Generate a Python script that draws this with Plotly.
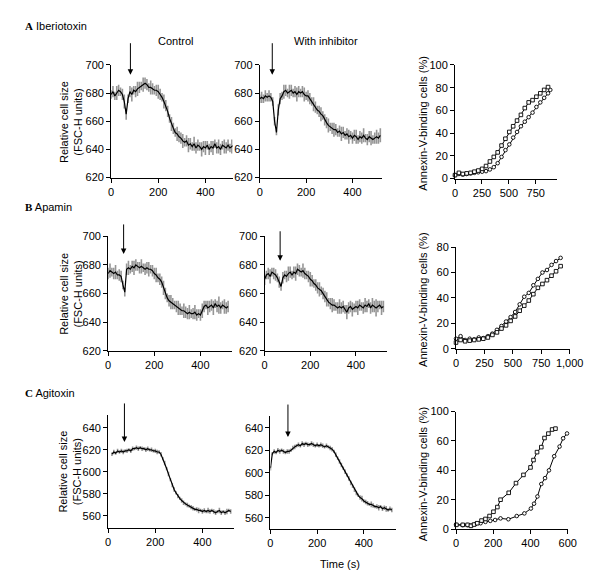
import plotly.graph_objects as go

FONT = "Liberation Sans, Arial, sans-serif"
W, H = 600, 579

# ---------------- data ----------------
t = list(range(0, 521, 8))
t_c_ctrl = list(range(16, 521, 8))

a_ctrl = [679, 681, 678, 680, 682, 681, 679, 674, 665, 676, 681,
          679, 682, 681, 683, 684, 685, 686, 687, 686, 684, 684,
          683, 682, 682, 681, 679, 677, 674, 671, 667, 662, 658,
          655, 652, 651, 649, 648, 646, 645, 646, 643, 644, 642,
          644, 641, 643, 642, 640, 642, 641, 643, 640, 642, 641,
          644, 641, 642, 640, 643, 642, 641, 643, 641, 642, 643]
a_ctrl_sd = [3, 4, 3, 5, 4, 3, 4, 5, 4, 3, 4,
             5, 3, 4, 5, 4, 3, 5, 4, 4, 3, 5,
             4, 3, 4, 5, 4, 3, 5, 4, 4, 3, 5,
             4, 3, 5, 4, 4, 5, 3, 4, 5, 4, 3,
             5, 4, 4, 3, 5, 4, 5, 3, 4, 4, 5,
             3, 4, 5, 4, 3, 5, 4, 4, 3, 5, 4]

a_inh = [676, 677, 676, 678, 677, 678, 677, 674, 660, 652, 668,
         676, 678, 681, 682, 680, 681, 682, 680, 681, 679, 681,
         680, 681, 679, 678, 678, 676, 674, 672, 670, 668, 667,
         665, 664, 661, 659, 657, 656, 655, 654, 654, 652, 653,
         651, 652, 650, 651, 649, 650, 648, 650, 649, 647, 649,
         648, 650, 648, 647, 649, 648, 647, 648, 649, 648, 650]
a_inh_sd = [3, 4, 3, 4, 3, 4, 3, 3, 3, 2, 4,
            4, 3, 5, 4, 3, 5, 4, 3, 4, 5, 4,
            3, 4, 5, 3, 4, 4, 3, 5, 4, 3, 4,
            5, 3, 4, 4, 5, 3, 4, 5, 4, 3, 4,
            5, 4, 3, 4, 5, 3, 4, 4, 5, 3, 4,
            4, 5, 3, 4, 4, 5, 3, 4, 5, 4, 5]

b_ctrl = [674, 676, 675, 674, 675, 673, 673, 672, 666, 661, 677,
          678, 677, 679, 678, 680, 679, 678, 679, 678, 677, 678,
          677, 677, 676, 674, 673, 671, 670, 668, 664, 660, 657,
          655, 654, 653, 652, 651, 650, 649, 648, 648, 647, 646,
          647, 646, 646, 647, 645, 646, 645, 648, 651, 652, 650,
          651, 652, 650, 653, 651, 652, 650, 652, 651, 650, 651]
b_ctrl_sd = [4, 5, 3, 4, 5, 3, 4, 4, 3, 3, 4,
             5, 3, 4, 5, 4, 3, 4, 5, 3, 4, 4,
             5, 3, 4, 4, 5, 3, 4, 4, 5, 4, 3,
             4, 5, 4, 3, 4, 5, 4, 3, 5, 4, 4,
             5, 3, 4, 5, 4, 3, 4, 5, 4, 3, 5,
             4, 4, 5, 3, 4, 6, 4, 3, 5, 4, 4]

b_inh = [670, 673, 674, 672, 675, 674, 673, 671, 668, 665, 671,
         673, 672, 674, 675, 673, 675, 674, 677, 676, 675, 676,
         674, 673, 672, 670, 669, 667, 666, 664, 663, 662, 660,
         658, 656, 654, 653, 652, 652, 651, 650, 651, 650, 651,
         649, 647, 650, 651, 649, 650, 651, 650, 652, 651, 650,
         652, 651, 653, 650, 652, 651, 650, 651, 652, 650, 651]
b_inh_sd = [4, 3, 4, 5, 3, 4, 4, 3, 4, 3, 4,
            3, 4, 5, 4, 3, 4, 5, 4, 4, 3, 5,
            4, 3, 4, 5, 4, 3, 4, 4, 5, 3, 4,
            4, 5, 3, 4, 5, 4, 3, 4, 5, 4, 4,
            3, 5, 4, 4, 5, 3, 4, 5, 4, 3, 4,
            5, 4, 3, 4, 5, 4, 6, 4, 3, 5, 4]

c_ctrl = [616, 618, 617, 619, 618, 619, 618, 619, 619, 620, 619,
          621, 621, 622, 621, 622, 621, 621, 620, 621, 620, 620,
          619, 619, 618, 618, 616, 612, 608, 603, 598, 593, 588,
          584, 581, 578, 576, 574, 572, 571, 570, 569, 568, 567,
          566, 566, 565, 565, 564, 565, 564, 565, 564, 565, 564,
          563, 564, 565, 563, 564, 563, 564, 565, 564]
c_ctrl_sd = [1.5, 2, 1.5, 2, 1.5, 2, 2, 1.5, 2, 1.5, 2,
             2, 1.5, 2, 2, 1.5, 2, 1.5, 2, 2, 1.5, 2,
             1.5, 2, 2, 1.5, 2, 1.5, 2, 1.5, 2, 1.5, 2,
             2, 1.5, 2, 1.5, 2, 2, 1.5, 2, 1.5, 2, 2,
             1.5, 2, 2.5, 1.5, 2, 2, 1.5, 2.5, 2, 1.5, 2,
             2, 1.5, 2.5, 2, 1.5, 2, 2.5, 1.5, 2]

c_inh = [604, 617, 619, 618, 620, 619, 620, 619, 618, 619, 619,
         620, 622, 623, 624, 625, 624, 626, 625, 626, 625, 625,
         626, 625, 624, 625, 624, 625, 624, 623, 624, 623, 622,
         621, 619, 616, 613, 610, 607, 604, 601, 598, 595, 591,
         588, 585, 582, 580, 578, 577, 575, 574, 573, 572, 572,
         571, 570, 570, 569, 570, 568, 569, 568, 567, 568, 567]
c_inh_sd = [2, 1.5, 2, 1.5, 2, 2, 1.5, 2, 1.5, 2, 2,
            1.5, 2, 2, 1.5, 2, 1.5, 2, 2, 1.5, 2, 1.5,
            2, 2, 1.5, 2, 1.5, 2, 2, 1.5, 2, 1.5, 2,
            2, 1.5, 2, 1.5, 2, 2, 1.5, 2, 1.5, 2, 2,
            1.5, 2, 2, 1.5, 2, 2.5, 1.5, 2, 2, 1.5, 2.5,
            2, 1.5, 2, 2.5, 1.5, 2, 2, 2.5, 1.5, 2, 2]

# Annexin-V binding (%)
ann_a_sq_x = [0, 36, 72, 108, 144, 180, 216, 252, 288, 324, 360, 396, 432,
              468, 504, 540, 576, 612, 648, 684, 720, 756, 792, 828, 864]
ann_a_sq = [3, 5, 4, 4.5, 5, 6, 7, 8.5, 11, 15, 19, 23, 29,
            35, 41, 46, 51, 56, 62, 67, 69, 72, 75, 78, 80.5]
ann_a_ci_x = [0, 36, 72, 108, 144, 180, 216, 252, 288, 324, 360, 396, 432,
              468, 504, 540, 576, 612, 648, 684, 720, 756, 792, 828, 864, 885]
ann_a_ci = [3, 4, 3.5, 4, 4.5, 5, 5.5, 6, 6.5, 8, 10, 13.5, 19,
            25, 30, 36, 41, 46, 50, 54, 58, 63, 67, 71, 75, 78]

ann_b_x = [0, 40, 80, 120, 160, 200, 240, 280, 320, 360, 400, 440,
           480, 520, 560, 600, 640, 680, 720, 760, 800, 840, 880, 920]
ann_b_sq = [5, 7, 6, 6.5, 7, 7.5, 8, 9, 11, 13, 16, 18.5,
            22, 25.5, 30, 34, 38, 43, 48, 51, 54, 57.5, 61, 65]
ann_b_ci = [8, 10, 7, 8, 7.5, 9, 8.5, 10, 12, 15, 18, 21.5,
            25, 29, 35, 41, 44, 50, 55, 60, 62, 66, 69, 71.5]

ann_c_sq_x = [2, 36, 62, 80, 97, 114, 137, 158, 180, 201, 222, 239,
              283, 322, 362, 400, 416, 435, 458, 475, 496, 516, 534]
ann_c_sq = [2.9, 2.9, 2.9, 2.2, 3.1, 4, 5.8, 6.9, 8.9, 11.8, 15, 20,
            24.7, 31.3, 36.9, 42, 47, 52.4, 55.8, 62, 65, 67.8, 68.4]
ann_c_ci_x = [0, 36, 62, 80, 106, 132, 158, 184, 210, 239, 281, 326,
              367, 402, 419, 437, 458, 478, 499, 527, 556, 575, 596]
ann_c_ci = [2.9, 2.7, 2.7, 2.4, 3.6, 4, 4.9, 5.6, 6.2, 7.3, 6.7, 8.9,
            10.7, 14, 17.3, 22.2, 30.7, 34.7, 40, 49.6, 56.2, 61.8, 65.1]

# toxin addition times (arrows)
arrow_t = {1: 82, 2: 54, 4: 67, 5: 68, 7: 69, 8: 75}

row_labels = [("A", "Iberiotoxin"), ("B", "Apamin"), ("C", "Agitoxin")]
col_titles = ["Control", "With inhibitor"]

# ---------------- layout helpers ----------------
def xd(a, b):
    return [a / W, b / W]

def yd(top, bot):
    return [1 - bot / H, 1 - top / H]

# panel: (x0, x1, ytop, ybot, xrange, yrange, xticks, xticktext, yticks, yticktext)
panels = {
    1: (103, 228, 52, 167, [0, 515], [620, 700], [0, 200, 400], None, [620, 640, 660, 680, 700], None),
    2: (256, 382, 52, 167, [0, 528], [620, 700], [0, 200, 400], None, [620, 640, 660, 680, 700], None),
    3: (457, 562, 52, 168, [0, 948], [0, 100], [0, 250, 500, 750], None, [0, 20, 40, 60, 80, 100], None),
    4: (100, 227, 227, 344, [0, 535], [620, 700], [0, 200, 400], None, [620, 640, 660, 680, 700], None),
    5: (261, 387, 227, 344, [0, 536], [620, 700], [0, 200, 400], None, [620, 640, 660, 680, 700], None),
    6: (458, 575, 238, 342, [0, 1000], [0, 80], [0, 250, 500, 750, 1000], ["0", "250", "500", "750", "1,000"], [0, 20, 40, 60, 80], None),
    7: (100, 229, 409, 525, [0, 532], [549, 652], [0, 200, 400], None, [560, 580, 600, 620, 640], None),
    8: (267, 396, 411, 526, [0, 537], [550, 650], [0, 200, 400], None, [560, 580, 600, 620, 640], None),
    9: (458, 573, 406, 526, [0, 600], [0, 80], [0, 200, 400, 600], None, [0, 20, 40, 60, 80], ["0", "20", "40", "60", "100"]),
}

fig = go.Figure()

def add_trace_series(i, x, y, sd):
    xa = "x" if i == 1 else f"x{i}"
    ya = "y" if i == 1 else f"y{i}"
    fig.add_trace(go.Scatter(
        x=x, y=y, xaxis=xa, yaxis=ya, mode="lines",
        line=dict(color="rgba(0,0,0,0)", width=0),
        error_y=dict(type="data", array=sd, visible=True, color="#969696", thickness=1.6, width=0),
        showlegend=False, hoverinfo="skip"))
    fig.add_trace(go.Scatter(
        x=x, y=y, xaxis=xa, yaxis=ya, mode="lines",
        line=dict(color="black", width=1.2), showlegend=False))

def add_ann_series(i, x, y, symbol):
    xa = "x" if i == 1 else f"x{i}"
    ya = "y" if i == 1 else f"y{i}"
    fig.add_trace(go.Scatter(
        x=x, y=y, xaxis=xa, yaxis=ya, mode="lines+markers",
        line=dict(color="black", width=1),
        marker=dict(symbol=symbol, size=3.6, color="white", line=dict(color="black", width=0.9)),
        showlegend=False, cliponaxis=False))

add_trace_series(1, t, a_ctrl, a_ctrl_sd)
add_trace_series(2, t, a_inh, a_inh_sd)
add_trace_series(4, t, b_ctrl, b_ctrl_sd)
add_trace_series(5, t, b_inh, b_inh_sd)
add_trace_series(7, t_c_ctrl, c_ctrl, c_ctrl_sd)
add_trace_series(8, t, c_inh, c_inh_sd)

add_ann_series(3, ann_a_ci_x, ann_a_ci, "circle")
add_ann_series(3, ann_a_sq_x, ann_a_sq, "square")
add_ann_series(6, ann_b_x, ann_b_ci, "circle")
add_ann_series(6, ann_b_x, ann_b_sq, "square")
add_ann_series(9, ann_c_ci_x, ann_c_ci, "circle")
add_ann_series(9, ann_c_sq_x, ann_c_sq, "square")

axis_common = dict(showgrid=False, zeroline=False, showline=True, linecolor="black",
                   linewidth=1, ticks="outside", ticklen=4, tickwidth=1, tickcolor="black",
                   tickfont=dict(family=FONT, size=11, color="black"))

layout_axes = {}
for i, (x0, x1, yt, yb, xr, yr, xt, xtt, ytv, ytt) in panels.items():
    xkey = "xaxis" if i == 1 else f"xaxis{i}"
    ykey = "yaxis" if i == 1 else f"yaxis{i}"
    xa = dict(axis_common, domain=xd(x0, x1), range=xr, tickvals=xt,
              anchor="y" if i == 1 else f"y{i}")
    if xtt:
        xa["ticktext"] = xtt
    ya = dict(axis_common, domain=yd(yt, yb), range=yr, tickvals=ytv,
              anchor="x" if i == 1 else f"x{i}")
    if ytt:
        ya["ticktext"] = ytt
    layout_axes[xkey] = xa
    layout_axes[ykey] = ya

annotations = []
# arrows
arrow_px = {1: (29, 62), 2: (29, 62), 4: (214, 245), 5: (221, 252), 7: (397, 437), 8: (398, 432)}
for i, tv in arrow_t.items():
    tail, tip = arrow_px[i]
    annotations.append(dict(
        x=tv, y=1 - tip / H, xref="x" if i == 1 else f"x{i}", yref="paper",
        ax=0, ay=-(tip - tail), text="", showarrow=True, arrowhead=2,
        arrowsize=1.1, arrowwidth=1, arrowcolor="black", standoff=0))

# row labels
for (letter, name), ypx in zip(row_labels, [12, 197, 387]):
    annotations.append(dict(
        x=12 / W, y=1 - ypx / H, xref="paper", yref="paper", xanchor="left", yanchor="middle",
        text=f'<span style="font-family:Liberation Serif, Times New Roman, serif"><b>{letter}</b></span> {name}',
        showarrow=False, font=dict(family=FONT, size=11, color="black")))

# column titles
for txt, xc in zip(col_titles, [169, 324]):
    annotations.append(dict(
        x=xc / W, y=1 - 28 / H, xref="paper", yref="paper", xanchor="center", yanchor="middle",
        text=txt, showarrow=False, font=dict(family=FONT, size=11, color="black")))

# y-axis titles
for yc in [110, 285.5, 467]:
    annotations.append(dict(
        x=61 / W, y=1 - yc / H, xref="paper", yref="paper", xanchor="center", yanchor="middle",
        text="Relative cell size<br>(FSC-H units)", textangle=-90, showarrow=False,
        font=dict(family=FONT, size=11, color="black")))
for yc in [111, 291, 469]:
    annotations.append(dict(
        x=424 / W, y=1 - yc / H, xref="paper", yref="paper", xanchor="center", yanchor="middle",
        text="Annexin-V-binding cells (%)", textangle=-90, showarrow=False,
        font=dict(family=FONT, size=11, color="black")))

annotations.append(dict(
    x=339 / W, y=1 - 562 / H, xref="paper", yref="paper", xanchor="center", yanchor="middle",
    text="Time (s)", showarrow=False, font=dict(family=FONT, size=11, color="black")))

fig.update_layout(
    width=W, height=H, margin=dict(l=0, r=0, t=0, b=0),
    paper_bgcolor="white", plot_bgcolor="white",
    font=dict(family=FONT, size=11, color="black"),
    annotations=annotations, showlegend=False,
    **layout_axes)

fig.write_html("out.html")
